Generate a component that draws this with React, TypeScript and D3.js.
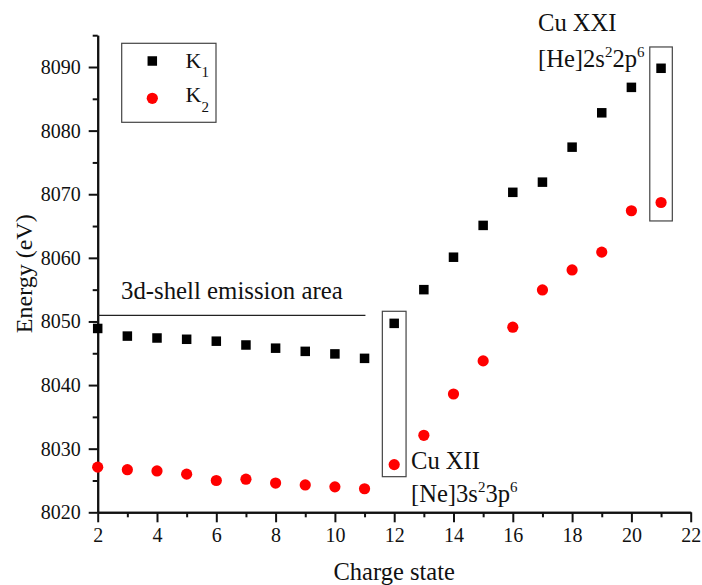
import React, { useEffect, useRef } from "react";
import * as d3 from "d3";

const chargeStates = [2, 3, 4, 5, 6, 7, 8, 9, 10, 11, 12, 13, 14, 15, 16, 17, 18, 19, 20, 21];
const k1Values = [8048.9, 8047.7, 8047.4, 8047.2, 8046.9, 8046.3, 8045.8, 8045.3, 8044.9, 8044.2, 8049.7, 8055.0, 8060.1, 8065.1, 8070.3, 8071.9, 8077.4, 8082.8, 8086.8, 8089.8];
const k2Values = [8027.1, 8026.7, 8026.5, 8026.0, 8025.0, 8025.2, 8024.6, 8024.3, 8024.0, 8023.7, 8027.5, 8032.1, 8038.6, 8043.8, 8049.1, 8054.95, 8058.1, 8060.9, 8067.4, 8068.7];
const xMajorTicks = [2, 4, 6, 8, 10, 12, 14, 16, 18, 20, 22];
const xMinorTicks = [3, 5, 7, 9, 11, 13, 15, 17, 19, 21];
const yMajorTicks = [8020, 8030, 8040, 8050, 8060, 8070, 8080, 8090];
const yMinorTicks = [8025, 8035, 8045, 8055, 8065, 8075, 8085, 8095];
const seriesNames = ["K", "K"];
const seriesSubs = ["1", "2"];
// annotation boxes: [xMin, xMax, yMin, yMax] in data units
const boxCuXII = [11.6, 12.4, 8025.6, 8051.6];
const boxCuXXI = [20.62, 21.38, 8065.8, 8093.15];
const shellLine = [2, 11.03, 8050.95];

const W = 702;
const H = 585;
const FONT = "Liberation Serif, Times New Roman, DejaVu Serif, serif";

export default function App() {
  const ref = useRef<SVGSVGElement | null>(null);

  useEffect(() => {
    const svg = d3.select(ref.current);
    svg.selectAll("*").remove();

    const x = d3.scaleLinear().domain([2, 22]).range([97.7, 690.7]);
    const y = d3.scaleLinear().domain([8020, 8095]).range([512.3, 35.2]);

    const txt = (sel: any, size: number) =>
      sel.style("font-family", FONT).style("font-size", `${size}px`).attr("fill", "#111");

    // Y axis
    const yAxis = svg.append("g").attr("transform", `translate(${x(2)},0)`);
    yAxis.call(
      d3.axisLeft(y).tickValues(yMajorTicks).tickSize(9).tickSizeOuter(0).tickPadding(8).tickFormat(d3.format("d"))
    );
    yAxis.append("g").call(d3.axisLeft(y).tickValues(yMinorTicks).tickSize(5).tickSizeOuter(0).tickFormat(() => ""));
    yAxis.selectAll(".domain").attr("stroke-width", 2).attr("stroke", "#111");
    yAxis.selectAll(".tick line").attr("stroke-width", 2).attr("stroke", "#111");
    txt(yAxis.selectAll(".tick text"), 20);

    // X axis
    const xAxis = svg.append("g").attr("transform", `translate(0,${y(8020)})`);
    xAxis.call(
      d3.axisBottom(x).tickValues(xMajorTicks).tickSize(10).tickSizeOuter(0).tickPadding(6).tickFormat(d3.format("d"))
    );
    xAxis.append("g").call(d3.axisBottom(x).tickValues(xMinorTicks).tickSize(5).tickSizeOuter(0).tickFormat(() => ""));
    xAxis.selectAll(".domain").attr("stroke-width", 2).attr("stroke", "#111");
    xAxis.selectAll(".tick line").attr("stroke-width", 2).attr("stroke", "#111");
    txt(xAxis.selectAll(".tick text"), 20);

    // Axis titles
    txt(
      svg
        .append("text")
        .attr("transform", `translate(32,${(y(8020) + y(8095)) / 2}) rotate(-90)`)
        .attr("text-anchor", "middle")
        .text("Energy (eV)"),
      24
    );
    txt(
      svg
        .append("text")
        .attr("x", (x(2) + x(22)) / 2)
        .attr("y", 580)
        .attr("text-anchor", "middle")
        .text("Charge state"),
      24.5
    );

    // Shell line + label
    svg
      .append("line")
      .attr("x1", x(shellLine[0]))
      .attr("x2", x(shellLine[1]))
      .attr("y1", y(shellLine[2]))
      .attr("y2", y(shellLine[2]))
      .attr("stroke", "#222")
      .attr("stroke-width", 1.2);
    txt(svg.append("text").attr("x", 121).attr("y", 299).text("3d-shell emission area"), 24.8);

    // Boxes
    [boxCuXII, boxCuXXI].forEach((b) => {
      svg
        .append("rect")
        .attr("x", x(b[0]))
        .attr("y", y(b[3]))
        .attr("width", x(b[1]) - x(b[0]))
        .attr("height", y(b[2]) - y(b[3]))
        .attr("fill", "none")
        .attr("stroke", "#444")
        .attr("stroke-width", 1.2);
    });

    // K1 squares
    const s = 9.5;
    svg
      .append("g")
      .selectAll("rect")
      .data(chargeStates)
      .join("rect")
      .attr("x", (d) => x(d) - s / 2)
      .attr("y", (_, i) => y(k1Values[i]) - s / 2)
      .attr("width", s)
      .attr("height", s)
      .attr("fill", "#000");

    // K2 circles
    svg
      .append("g")
      .selectAll("circle")
      .data(chargeStates)
      .join("circle")
      .attr("cx", (d) => x(d))
      .attr("cy", (_, i) => y(k2Values[i]))
      .attr("r", 5.6)
      .attr("fill", "#ff0000");

    // Annotations
    const addConfig = (tx: number, ty: number, parts: [string, boolean][]) => {
      const t = txt(svg.append("text").attr("x", tx).attr("y", ty), 24.6);
      let prevSup = false;
      parts.forEach(([str, sup]) => {
        const ts = t.append("tspan").text(str);
        if (sup) {
          ts.style("font-size", "15px").attr("dy", -10);
        } else if (prevSup) {
          ts.attr("dy", 10);
        }
        prevSup = sup;
      });
    };
    txt(svg.append("text").attr("x", 538).attr("y", 31).text("Cu XXI"), 24.6);
    addConfig(538, 67, [["[He]2s", false], ["2", true], ["2p", false], ["6", true]]);
    txt(svg.append("text").attr("x", 411).attr("y", 469).text("Cu XII"), 24.6);
    addConfig(411, 502, [["[Ne]3s", false], ["2", true], ["3p", false], ["6", true]]);

    // Legend
    const lg = svg.append("g");
    lg.append("rect")
      .attr("x", 121.7)
      .attr("y", 43.3)
      .attr("width", 94.3)
      .attr("height", 79)
      .attr("fill", "#fff")
      .attr("stroke", "#444")
      .attr("stroke-width", 1.2);
    lg.append("rect").attr("x", 152.3 - s / 2).attr("y", 61 - s / 2).attr("width", s).attr("height", s).attr("fill", "#000");
    lg.append("circle").attr("cx", 152.3).attr("cy", 98.3).attr("r", 5.6).attr("fill", "#ff0000");
    [67.7, 102.3].forEach((by, i) => {
      const t = txt(lg.append("text").attr("x", 185.5).attr("y", by), 22);
      t.append("tspan").text(seriesNames[i]);
      t.append("tspan").style("font-size", "15px").attr("dy", 9.5).text(seriesSubs[i]);
    });
  }, []);

  return (
    <svg
      ref={ref}
      width={W}
      height={H}
      style={{ position: "absolute", left: 0, top: 0, background: "#fff" }}
    />
  );
}
